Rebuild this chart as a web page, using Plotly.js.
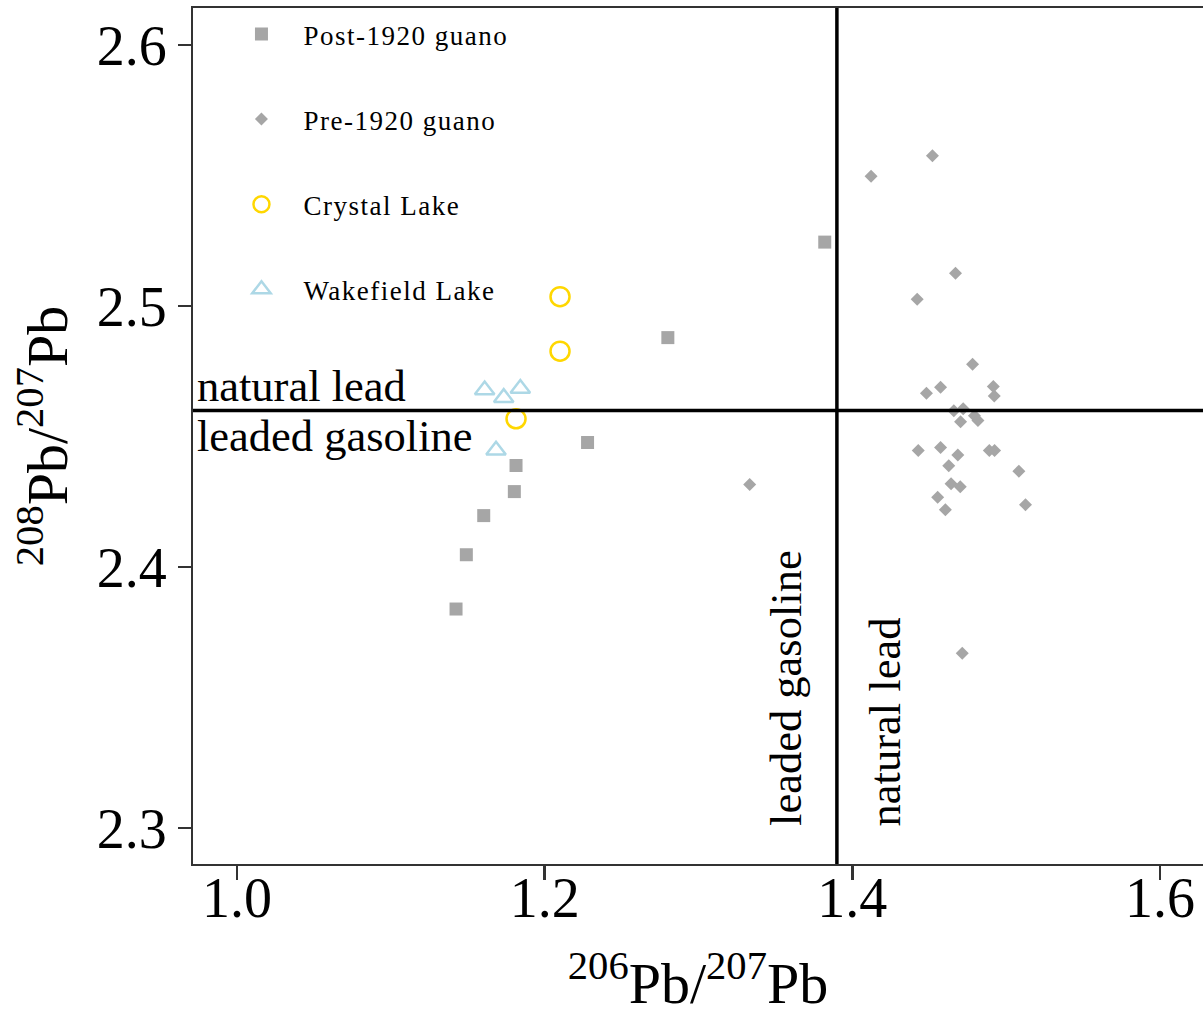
<!DOCTYPE html>
<html>
<head>
<meta charset="utf-8">
<script src="https://cdn.plot.ly/plotly-3.0.1.min.js"></script>
<style>
html,body{margin:0;padding:0;background:#fff;}
.legendtext{letter-spacing:1.5px;}
</style>
</head>
<body>
<div id="chart" style="width:1203px;height:1016px;"></div>
<script>
// ---- data ----
const seriesNames = ["Post-1920 guano", "Pre-1920 guano", "Crystal Lake", "Wakefield Lake"];

const post1920X = [1.3821, 1.2801, 1.2279, 1.1814, 1.1803, 1.1604, 1.1491, 1.1424];
const post1920Y = [2.5245, 2.4879, 2.4477, 2.4389, 2.4289, 2.4197, 2.4047, 2.3839];

const pre1920X = [1.4122, 1.4521, 1.4671, 1.4422, 1.4782, 1.4482, 1.4574, 1.4917, 1.4923,
                  1.4660, 1.4721, 1.4704, 1.4794, 1.4817, 1.4429, 1.4574, 1.4686, 1.4627,
                  1.4891, 1.4925, 1.5083, 1.4642, 1.4702, 1.4555, 1.4605, 1.5126, 1.4715, 1.3333];
const pre1920Y = [2.5497, 2.5576, 2.5126, 2.5026, 2.4777, 2.4666, 2.4689, 2.4692, 2.4655,
                  2.4599, 2.4606, 2.4557, 2.4580, 2.4561, 2.4446, 2.4458, 2.4429, 2.4388,
                  2.4446, 2.4446, 2.4367, 2.4319, 2.4308, 2.4267, 2.4219, 2.4239, 2.3670, 2.4316];

const crystalX = [1.2100, 1.2100, 1.1814];
const crystalY = [2.5036, 2.4827, 2.4568];

const wakefieldX = [1.1610, 1.1734, 1.1842, 1.1684];
const wakefieldY = [2.4678, 2.4649, 2.4684, 2.4447];

const xTicks = [1.0, 1.2, 1.4, 1.6];
const xTickText = ["1.0", "1.2", "1.4", "1.6"];
const yTicks = [2.3, 2.4, 2.5, 2.6];
const yTickText = ["2.3", "2.4", "2.5", "2.6"];

const thresholdX = 1.39;   // 206Pb/207Pb boundary
const thresholdY = 2.46;   // 208Pb/207Pb boundary
const labelNatural = "natural lead";
const labelGasoline = "leaded gasoline";

// ---- styling ----
const FONT = "Liberation Serif, Times New Roman, serif";
const grey = "#a6a6a6";

const traces = [
  {x: post1920X, y: post1920Y, name: seriesNames[0], type: "scatter", mode: "markers",
   legendgroup: "g1", marker: {symbol: "square", size: 13, color: grey}},
  {x: pre1920X, y: pre1920Y, name: seriesNames[1], type: "scatter", mode: "markers",
   legendgroup: "g2", marker: {symbol: "diamond", size: 10, color: grey}},
  {x: crystalX, y: crystalY, name: seriesNames[2], type: "scatter", mode: "markers",
   legendgroup: "g3", marker: {symbol: "circle-open", size: 19, color: "#FFD700", line: {width: 2.5, color: "#FFD700"}}},
  {x: wakefieldX, y: wakefieldY, name: seriesNames[3], type: "scatter", mode: "markers",
   legendgroup: "g4", marker: {symbol: "triangle-up-open", size: 17, color: "#ADD8E6", line: {width: 2.5, color: "#ADD8E6"}}}
];

const layout = {
  width: 1203, height: 1016,
  margin: {l: 193, r: 0, t: 8, b: 152},
  paper_bgcolor: "#ffffff", plot_bgcolor: "#ffffff",
  font: {family: FONT, color: "#000000"},
  showlegend: true,
  legend: {
    x: 0.0262, y: 0.9977, xanchor: "left", yanchor: "top",
    bgcolor: "rgba(0,0,0,0)", borderwidth: 0,
    font: {family: FONT, size: 27, color: "#000000"},
    traceorder: "grouped", tracegroupgap: 47, itemwidth: 74
  },
  xaxis: {
    range: [0.9714, 1.628], tickvals: xTicks, ticktext: xTickText,
    showgrid: false, zeroline: false,
    showline: true, linecolor: "#333333", linewidth: 2, mirror: true,
    ticks: "outside", ticklen: 14, tickwidth: 2.5, tickcolor: "#333333",
    ticklabelstandoff: -30,
    tickfont: {family: FONT, size: 56, color: "#000000"},
    title: {text: "<sup>206</sup>Pb/<sup>207</sup>Pb", font: {family: FONT, size: 58, color: "#000000"}, standoff: 42}
  },
  yaxis: {
    range: [2.2862, 2.6142], tickvals: yTicks, ticktext: yTickText,
    showgrid: false, zeroline: false,
    showline: true, linecolor: "#333333", linewidth: 2, mirror: false,
    ticks: "outside", ticklen: 13, tickwidth: 2.5, tickcolor: "#333333",
    tickfont: {family: FONT, size: 56, color: "#000000"},
    title: {text: "<sup>208</sup>Pb/<sup>207</sup>Pb", font: {family: FONT, size: 58, color: "#000000"}, standoff: 10}
  },
  shapes: [
    {type: "line", xref: "x", yref: "paper", x0: thresholdX, x1: thresholdX, y0: 0, y1: 1,
     line: {color: "#000000", width: 3.5}},
    {type: "line", xref: "paper", yref: "y", x0: 0, x1: 1, y0: thresholdY, y1: thresholdY,
     line: {color: "#000000", width: 3.5}}
  ],
  annotations: [
    {xref: "paper", yref: "y", x: 0, y: thresholdY, xanchor: "left", yanchor: "bottom",
     text: labelNatural, showarrow: false, xshift: 2, yshift: -3,
     font: {family: FONT, size: 44.5, color: "#000000"}},
    {xref: "paper", yref: "y", x: 0, y: thresholdY, xanchor: "left", yanchor: "top",
     text: labelGasoline, showarrow: false, xshift: 2, yshift: 1,
     font: {family: FONT, size: 44.5, color: "#000000"}},
    {xref: "x", yref: "y", x: thresholdX, y: 2.3, xanchor: "right", yanchor: "bottom",
     text: labelGasoline, textangle: -90, showarrow: false, xshift: -24,
     font: {family: FONT, size: 44.5, color: "#000000"}},
    {xref: "x", yref: "y", x: thresholdX, y: 2.3, xanchor: "left", yanchor: "bottom",
     text: labelNatural, textangle: -90, showarrow: false, xshift: 22,
     font: {family: FONT, size: 44.5, color: "#000000"}}
  ]
};

Plotly.newPlot("chart", traces, layout, {displayModeBar: false, staticPlot: true});
</script>
</body>
</html>
